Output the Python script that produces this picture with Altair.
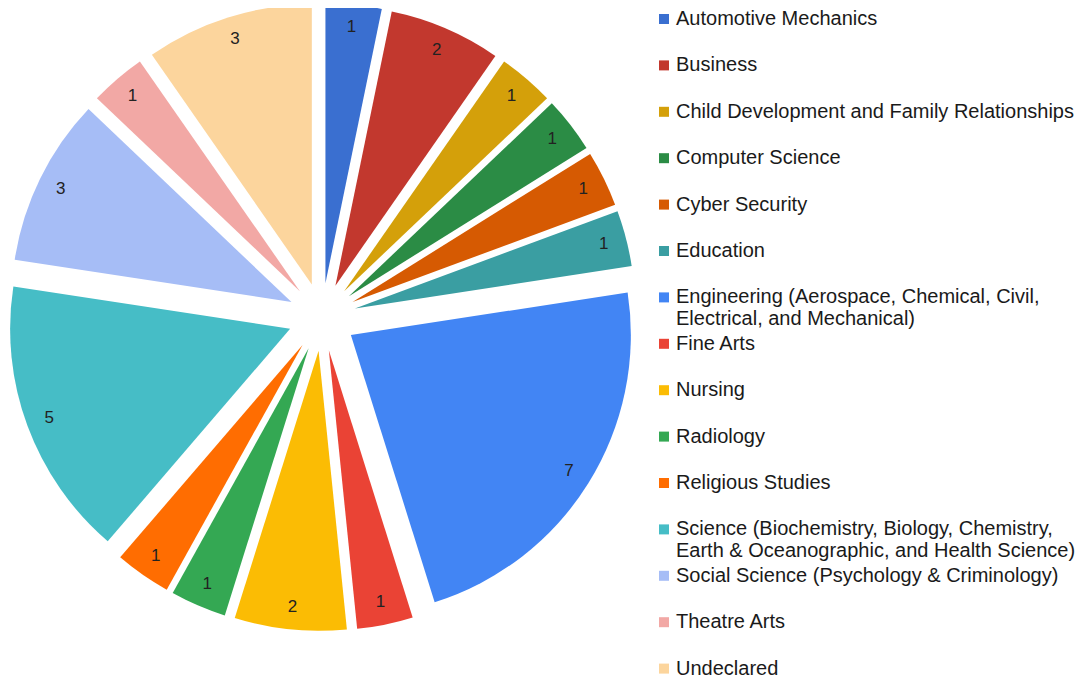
import math
import altair as alt
import pandas as pd

categories = [
    "Automotive Mechanics",
    "Business",
    "Child Development and Family Relationships",
    "Computer Science",
    "Cyber Security",
    "Education",
    "Engineering (Aerospace, Chemical, Civil, Electrical, and Mechanical)",
    "Fine Arts",
    "Nursing",
    "Radiology",
    "Religious Studies",
    "Science (Biochemistry, Biology, Chemistry, Earth & Oceanographic, and Health Science)",
    "Social Science (Psychology & Criminology)",
    "Theatre Arts",
    "Undeclared",
]
counts = [1, 2, 1, 1, 1, 1, 7, 1, 2, 1, 1, 5, 3, 1, 3]
colors = [
    "#3a6fd0", "#c2382e", "#d4a00a", "#2b8c45", "#d65a02", "#3a9ea2",
    "#4285f4", "#ea4335", "#fbbc04", "#34a853", "#ff6d01", "#46bdc6",
    "#a6bdf6", "#f2a8a5", "#fcd59d",
]

df = pd.DataFrame({"major": categories, "count": counts, "order": list(range(len(categories)))})
total = sum(counts)

CX, CY = 314, 309      # pie centre (chart coords)
R = 280                # slice radius
D = 34                 # explode distance
LABEL_R = 257

base = alt.Chart(df).transform_window(
    end="sum(count)", sort=[alt.SortField("order")], frame=[None, 0]
).transform_calculate(
    start="datum.end - datum.count",
    mid="datum.end - datum.count / 2",
).transform_calculate(
    ox=f"sin(2 * PI * datum.mid / {total})",
    oy=f"-cos(2 * PI * datum.mid / {total})",
)

xenc = alt.X("ox:Q", scale=alt.Scale(domain=[-1, 1], range=[CX - D, CX + D]), axis=None)
yenc = alt.Y("oy:Q", scale=alt.Scale(domain=[-1, 1], range=[CY - D, CY + D]), axis=None)
theta_scale = alt.Scale(domain=[0, total], range=[0, 2 * math.pi])

# every legend label (except the last) becomes two lines (second one empty when
# not wrapped), so all legend rows get the same height
last = categories[-1]
label_expr = (
    "indexof(datum.label, 'Civil, ') >= 0 || indexof(datum.label, 'Chemistry, ') >= 0"
    " ? split(replace(replace(datum.label, 'Civil, ', 'Civil,\\n'), 'Chemistry, ', 'Chemistry,\\n'), '\\n')"
    f" : (datum.label == '{last}' ? datum.label : [datum.label, ' '])"
)

arcs = base.mark_arc(outerRadius=R, stroke=None).encode(
    x=xenc,
    y=yenc,
    theta=alt.Theta("start:Q", scale=theta_scale, stack=None),
    theta2="end:Q",
    color=alt.Color(
        "major:N",
        scale=alt.Scale(domain=categories, range=colors),
        sort=categories,
        legend=alt.Legend(
            title=None,
            orient="none",
            legendX=646,
            legendY=1,
            symbolType="square",
            symbolSize=100,
            symbolStrokeWidth=0,
            labelFont="Liberation Sans",
            labelFontSize=20,
            labelColor="#1a1a1a",
            labelOffset=2,
            labelLimit=500,
            rowPadding=4.4,
            labelExpr=label_expr,
        ),
    ),
)

labels = base.mark_text(
    radius=LABEL_R, font="Liberation Sans", fontSize=17, color="#222222"
).encode(
    x=xenc,
    y=yenc,
    theta=alt.Theta("mid:Q", scale=theta_scale, stack=None),
    text="count:Q",
)

chart = (
    alt.layer(arcs, labels)
    .properties(width=1073, height=673, autosize=alt.AutoSizeParams(type="none"), padding=0)
    .configure_view(stroke=None)
)

chart.save("out.html", embed_options={"renderer": "svg", "actions": False})
